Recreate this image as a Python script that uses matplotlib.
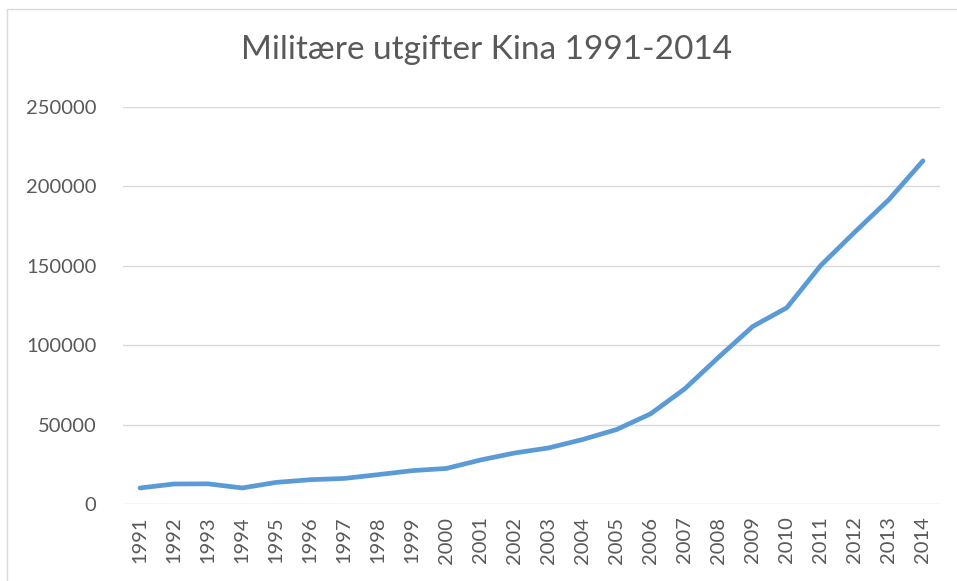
import matplotlib
matplotlib.use("Agg")
import matplotlib.pyplot as plt
from matplotlib.patches import Rectangle

# data
years = [str(y) for y in range(1991, 2015)]
spending = [10100, 12600, 12700, 10100, 13600, 15300, 16100, 18500, 21000, 22400,
            27700, 32100, 35300, 40600, 46900, 56800, 72500, 92500, 111800, 123600,
            150300, 171300, 191700, 216100]
yticks = [0, 50000, 100000, 150000, 200000, 250000]

plt.rcParams['font.family'] = ['Lato', 'DejaVu Sans']

fig = plt.figure(figsize=(9.57, 5.81), dpi=100)
# chart border like the Excel chart area
fig.patches.append(Rectangle((7 / 957, -0.1), 1.1, (581 - 9) / 581 + 0.1,
                             transform=fig.transFigure, fill=False,
                             edgecolor='#d9d9d9', linewidth=1))

ax = fig.add_axes([123 / 957, 77 / 581, 817 / 957, 397 / 581])
x = list(range(len(years)))
ax.plot(x, spending, color='#5b9bd5', linewidth=3.4, solid_capstyle='round',
        solid_joinstyle='round', zorder=3)

ax.set_xlim(-0.5, len(years) - 0.5)
ax.set_ylim(0, 250000)
ax.set_yticks(yticks)
ax.set_yticklabels([str(v) for v in yticks])
ax.set_xticks(x)
ax.set_xticklabels(years, rotation=90)
ax.tick_params(axis='both', length=0, labelsize=14.5, colors='#595959')
ax.tick_params(axis='y', pad=19)
ax.tick_params(axis='x', pad=9)
ax.grid(axis='y', color='#d9d9d9', linewidth=1)
for s in ax.spines.values():
    s.set_visible(False)

fig.text(487 / 957, 1 - 50 / 581, 'Militære utgifter Kina 1991-2014', ha='center',
         va='center', fontsize=24, color='#595959')

fig.savefig('out.png', dpi=100)
